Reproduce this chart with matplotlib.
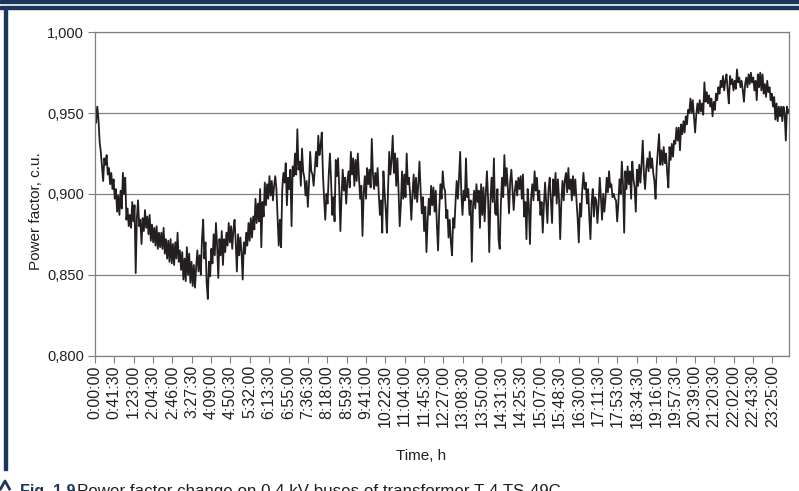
import numpy as np
import matplotlib
matplotlib.use("Agg")
import matplotlib.pyplot as plt
from matplotlib.lines import Line2D
from matplotlib.patches import Rectangle

plt.rcParams['font.family'] = ['Liberation Sans', 'DejaVu Sans']

# power factor in thousandths of c.u. from left to right
pf_part1 = [956, 944, 954, 946, 932, 926, 917, 908, 922, 918,
            924, 912, 916, 906, 913, 903, 909, 897, 903, 889,
            899, 887, 902, 891, 913, 900, 910, 884, 891, 880,
            887, 879, 895, 883, 893, 851, 885, 896, 880, 884,
            869, 885, 877, 890, 879, 886, 875, 887, 871, 881,
            870, 879, 868, 880, 866, 876, 867, 876, 866, 879,
            863, 872, 860, 871, 858, 872, 857, 869, 856, 870,
            860, 876, 858, 865, 853, 864, 847, 860, 846, 867,
            850, 863, 845, 858, 843, 856, 842]
pf_part2 = [855, 865, 852, 862, 850, 872, 884, 860, 870, 845,
            835, 858, 849, 866, 857, 875, 862, 882, 868, 848,
            872, 862, 877, 856, 872, 864, 876, 868, 882, 870,
            880, 866, 878, 884, 870, 852, 875, 862, 873, 864,
            847, 870, 863, 876, 868, 882, 871, 885, 873, 886,
            878, 897, 882, 894, 883, 903, 867, 895, 886, 907,
            893, 906, 897, 911, 899, 908, 896, 905, 911, 903,
            886, 868, 884, 867, 903, 913, 907, 919, 893, 910,
            903, 915, 880, 917, 911, 925]
pf_part3 = [912, 940, 915, 920, 905, 928, 914, 910, 899, 908,
            892, 906, 926, 914, 912, 905, 916, 926, 917, 936,
            924, 930, 938, 912, 897, 884, 900, 894, 912, 925,
            908, 887, 898, 883, 921, 911, 922, 904, 877, 899,
            915, 902, 910, 894, 908, 914, 904, 926, 912, 922,
            905, 921, 908, 925, 910, 897, 905, 874, 900, 911,
            897, 916, 906, 915, 904, 934, 912, 903, 913, 905,
            916, 900, 887, 896, 876, 914, 901, 890, 876, 903,
            926, 912, 921, 936, 913, 925]
pf_part4 = [905, 922, 902, 880, 893, 914, 897, 912, 898, 925,
            906, 910, 899, 884, 900, 912, 897, 910, 895, 906,
            920, 902, 888, 898, 877, 892, 864, 883, 897, 887,
            905, 893, 904, 889, 902, 880, 865, 890, 906, 897,
            914, 904, 902, 885, 890, 873, 884, 870, 862, 885,
            879, 895, 908, 897, 910, 926, 900, 887, 902, 896,
            922, 898, 903, 887, 896, 858, 892, 902, 891, 906,
            895, 902, 879, 906, 887, 904, 883, 900, 914, 897,
            864, 895, 910, 895, 922, 888]
pf_part5 = [887, 903, 872, 866, 894, 910, 898, 924, 905, 916,
            903, 888, 908, 915, 903, 890, 902, 908, 899, 910,
            903, 911, 897, 912, 886, 895, 872, 903, 893, 869,
            897, 906, 896, 914, 902, 910, 896, 902, 887, 895,
            876, 893, 907, 894, 882, 903, 910, 896, 882, 909,
            899, 913, 894, 909, 897, 872, 895, 908, 896, 909,
            913, 901, 916, 903, 909, 896, 911, 899, 909, 896,
            885, 870, 894, 886, 903, 913, 903, 907, 894, 903,
            886, 872, 894, 903, 886, 898]
pf_part6 = [896, 882, 893, 910, 898, 884, 900, 889, 898, 910,
            901, 914, 904, 906, 898, 900, 897, 896, 883, 894,
            909, 900, 920, 906, 876, 914, 903, 917, 906, 914,
            897, 920, 909, 904, 889, 915, 905, 918, 907, 919,
            933, 912, 903, 916, 922, 914, 926, 916, 922, 913,
            908, 897, 917, 927, 937, 918, 927, 918, 929, 919,
            925, 913, 904, 929, 921, 931, 923, 933, 931, 941,
            933, 941, 927, 943, 937, 945, 938, 948, 943, 952,
            950, 959, 950, 958, 948, 938]
pf_part7 = [949, 956, 950, 958, 951, 956, 949, 969, 957, 963,
            956, 961, 954, 959, 948, 957, 952, 962, 958, 966,
            962, 970, 966, 973, 964, 970, 974, 964, 956, 973,
            968, 971, 964, 970, 965, 977, 969, 972, 966, 970,
            964, 957, 968, 972, 966, 974, 968, 975, 969, 972,
            964, 970, 958, 974, 966, 975, 964, 974, 962, 968,
            960, 970, 963, 966, 958, 962, 954, 960, 946, 956,
            945, 954, 948, 954, 945, 954, 950, 933, 954, 950,
            952]

time_labels = ['0:00:00', '0:41:30', '1:23:00', '2:04:30', '2:46:00', '3:27:30',
               '4:09:00', '4:50:30', '5:32:00', '6:13:30', '6:55:00', '7:36:30',
               '8:18:00', '8:59:30', '9:41:00', '10:22:30', '11:04:00', '11:45:30',
               '12:27:00', '13:08:30', '13:50:00', '14:31:30', '14:25:30', '15:07:00',
               '15:48:30', '16:30:00', '17:11:30', '17:53:00', '18:34:30', '19:16:00',
               '19:57:30', '20:39:00', '21:20:30', '22:02:00', '22:43:30', '23:25:00']
pf_ticks = [0.80, 0.85, 0.90, 0.95, 1.00]
pf_tick_labels = ['0,800', '0,850', '0,900', '0,950', '1,000']

label_every = 83     # samples between two labelled times
last_sample = 2978   # sample index at right edge of the plot

navy = '#1b365d'
ink = '#231f20'
grey = '#808080'
W, H = 799, 491


def px(x, y):
    return x / W, 1 - y / H


pf = np.concatenate([pf_part1, pf_part2, pf_part3, pf_part4,
                     pf_part5, pf_part6, pf_part7]) / 1000.0
t = np.linspace(0, last_sample, len(pf))

fig = plt.figure(figsize=(W / 100, H / 100), dpi=100)
ax = fig.add_axes([95 / W, 1 - 355.5 / H, (789.3 - 95) / W, (355.5 - 32.3) / H])
ax.plot(t, pf, color=ink, lw=1.3)

ax.set_xlim(0, last_sample)
ax.set_ylim(0.8, 1.0)
ax.set_xticks(np.arange(len(time_labels)) * label_every)
ax.set_xticklabels(time_labels, rotation=90)
ax.set_yticks(pf_ticks)
ax.set_yticklabels(pf_tick_labels)
ax.yaxis.grid(True, color=grey, lw=0.9)
ax.set_axisbelow(True)
for s in ax.spines.values():
    s.set_color(grey)
    s.set_linewidth(0.9)
ax.tick_params(axis='y', length=5, color=grey, pad=3, labelsize=10.5, labelcolor=ink)
ax.tick_params(axis='x', length=5, color=grey, pad=2, labelsize=11.5, labelcolor=ink)

fig.text(*px(36, 211), 'Power factor, c.u.', rotation=90, ha='center', va='center',
         fontsize=11, color=ink)
fig.text(*px(421, 456), 'Time, h', ha='center', va='center', fontsize=11, color=ink)

# journal frame around the figure
fig.patches.append(Rectangle(px(0, 2.7), 1, 2.7 / H, transform=fig.transFigure,
                             color=navy, zorder=5))
fig.patches.append(Rectangle(px(0, 8.7), 1, 2.4 / H, transform=fig.transFigure,
                             color=navy, zorder=5))
fig.patches.append(Rectangle(px(4.3, 470), 2.7 / W, (470 - 8.7) / H,
                             transform=fig.transFigure, color=navy, zorder=5))
fig.add_artist(Line2D([0.5 / W, 5 / W, 9.5 / W], [1 - 489 / H, 1 - 481 / H, 1 - 489 / H],
                      color=navy, lw=2))

# caption, cut by the lower edge as in the source page
fig.text(*px(20, 496), 'Fig. 1.9', fontweight='bold', fontsize=11.5,
         color=navy, va='baseline')
fig.text(*px(77, 496), 'Power factor change on 0.4 kV buses of transformer T-4 TS-49C',
         fontsize=12.2, color=ink, va='baseline')

fig.savefig('out.png', dpi=100)
